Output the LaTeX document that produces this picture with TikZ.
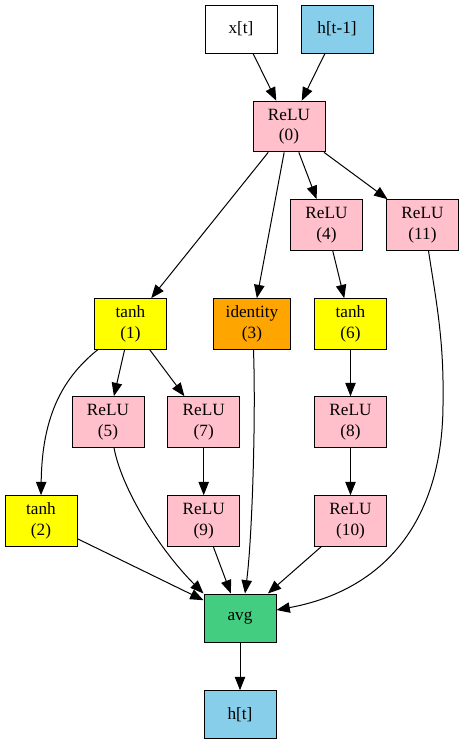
\documentclass[tikz,border=0pt]{standalone}
\usepackage{fontspec}
\setmainfont{Liberation Serif}
\usetikzlibrary{arrows.meta,calc}
\definecolor{gvpink}{HTML}{FFC0CB}
\definecolor{gvyellow}{HTML}{FFFF00}
\definecolor{gvorange}{HTML}{FFA500}
\definecolor{gvsky}{HTML}{87CEEB}
\definecolor{gvgreen}{HTML}{43CD80}
\begin{document}
\begin{tikzpicture}[x=0.75pt,y=-0.75pt,
 box/.style={draw=black,line width=0.75pt,minimum width=54pt,minimum height=36pt,inner sep=0pt,align=center,font=\fontsize{12.9}{15.3}\selectfont},
 two/.style={box,minimum height=38pt},
 conn/.style={line width=0.75pt,-{Triangle[length=10pt,width=7.8pt]}}]
\useasboundingbox (0,0) rectangle (469,744);
\node[box,fill=white] (x) at (241,29) {x[t]};
\node[box,fill=gvsky] (hp) at (337,29) {h[t-1]};
\node[two,fill=gvpink] (r0) at (289,126.5) {ReLU\\(0)};
\node[two,fill=gvpink] (r4) at (326.5,225) {ReLU\\(4)};
\node[two,fill=gvpink] (r11) at (422.5,225) {ReLU\\(11)};
\node[two,fill=gvyellow] (t1) at (130.5,324) {tanh\\(1)};
\node[two,fill=gvorange,minimum width=58pt] (id) at (252,324) {identity\\(3)};
\node[two,fill=gvyellow] (t6) at (350.5,324) {tanh\\(6)};
\node[two,fill=gvpink] (r5) at (108,422) {ReLU\\(5)};
\node[two,fill=gvpink] (r7) at (203.7,422) {ReLU\\(7)};
\node[two,fill=gvpink] (r8) at (350.5,422) {ReLU\\(8)};
\node[two,fill=gvyellow] (t2) at (41,521) {tanh\\(2)};
\node[two,fill=gvpink] (r9) at (203.7,521) {ReLU\\(9)};
\node[two,fill=gvpink] (r10) at (350.5,521) {ReLU\\(10)};
\node[box,fill=gvgreen] (avg) at (240,618) {avg};
\node[box,fill=gvsky] (ht) at (240,714.7) {h[t]};
% straight connectors
\draw[conn] (x) -- (r0);
\draw[conn] (hp) -- (r0);
\draw[conn] (r0) -- (t1);
\draw[conn] (r0) -- (id);
\draw[conn] (r0) -- (r4);
\draw[conn] (r0) -- (r11);
\draw[conn] (r4) -- (t6);
\draw[conn] (t1) -- (r5);
\draw[conn] (t1) -- (r7);
\draw[conn] (t6) -- (r8);
\draw[conn] (r7) -- (r9);
\draw[conn] (r8) -- (r10);
\draw[conn] (t2) -- (avg);
\draw[conn] (r9) -- (avg);
\draw[conn] (r10) -- (avg);
\draw[conn] (avg) -- (ht);
% curved connectors
\draw[conn] ($(t1.south west)+(3.6,0)$) .. controls (60,380) and (42,420) .. (t2.north);
\draw[conn] ($(id.south)+(1.5,0)$) .. controls (256,420) and (252,540) .. ($(avg.north)+(5,0)$);
\draw[conn] ($(r5.south)+(6,0)$) .. controls (122,490) and (160,550) .. (avg.north west);
\draw[conn] ($(r11.south)+(6,0)$) .. controls (436,300) and (444,340) .. (443,400)
  .. controls (444,520) and (385,590) .. ($(avg.east)+(0,-8)$);
\end{tikzpicture}
\end{document}
